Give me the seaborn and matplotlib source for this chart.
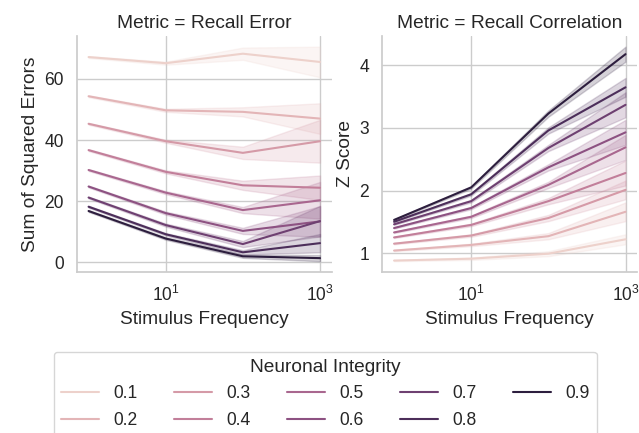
import numpy as np
import pandas as pd
import seaborn as sns
import matplotlib
matplotlib.use("Agg")
import matplotlib.pyplot as plt

# ---- data ----
freqs = [1, 10, 100, 1000]
integrity = [0.1, 0.2, 0.3, 0.4, 0.5, 0.6, 0.7, 0.8, 0.9]

err_mean = [
    [67.1, 65.1, 68.2, 65.5],
    [54.3, 49.7, 49.2, 47.0],
    [45.3, 39.6, 35.8, 39.6],
    [36.7, 29.6, 25.2, 24.4],
    [30.2, 22.8, 17.1, 20.3],
    [24.8, 16.1, 10.3, 13.4],
    [21.2, 12.2, 6.0, 13.5],
    [18.2, 9.2, 3.3, 6.3],
    [16.8, 7.8, 2.0, 1.4],
]
err_band = [
    [0.3, 0.5, 2.0, 5.0],
    [0.3, 0.5, 1.5, 5.0],
    [0.3, 0.5, 2.0, 7.0],
    [0.3, 0.5, 1.5, 4.0],
    [0.3, 0.5, 1.0, 6.0],
    [0.3, 0.5, 1.0, 5.0],
    [0.3, 0.5, 1.0, 5.0],
    [0.3, 0.4, 0.7, 3.0],
    [0.3, 0.4, 0.5, 1.0],
]
corr_mean = [
    [0.88, 0.91, 0.99, 1.22],
    [1.04, 1.13, 1.27, 1.66],
    [1.15, 1.28, 1.56, 2.01],
    [1.25, 1.45, 1.83, 2.28],
    [1.33, 1.58, 2.09, 2.69],
    [1.40, 1.72, 2.37, 2.93],
    [1.46, 1.83, 2.68, 3.37],
    [1.50, 1.94, 2.96, 3.65],
    [1.53, 2.05, 3.23, 4.18],
]
corr_band = [
    [0.01, 0.02, 0.04, 0.08],
    [0.01, 0.02, 0.05, 0.15],
    [0.01, 0.02, 0.05, 0.15],
    [0.01, 0.02, 0.05, 0.20],
    [0.01, 0.02, 0.05, 0.20],
    [0.01, 0.02, 0.05, 0.20],
    [0.01, 0.02, 0.05, 0.20],
    [0.01, 0.02, 0.05, 0.15],
    [0.01, 0.02, 0.05, 0.12],
]
metrics = ["Recall Error", "Recall Correlation"]
ylabels = ["Sum of Squared Errors", "Z Score"]

rows = []
for metric, means, bands in [(metrics[0], err_mean, err_band),
                             (metrics[1], corr_mean, corr_band)]:
    for i, lvl in enumerate(integrity):
        for j, f in enumerate(freqs):
            m, b = means[i][j], bands[i][j]
            for v in (m - b, m + b):
                rows.append({"Metric": metric, "Stimulus Frequency": f,
                             "Neuronal Integrity": lvl, "value": v})
df = pd.DataFrame(rows)

sns.set_theme(style="whitegrid", context="notebook", font_scale=1.15)
plt.rcParams["font.family"] = ["Liberation Sans", "DejaVu Sans"]
plt.rcParams["mathtext.fontset"] = "custom"
plt.rcParams["mathtext.rm"] = "Liberation Sans"
plt.rcParams["mathtext.it"] = "Liberation Sans:italic"
plt.rcParams["mathtext.bf"] = "Liberation Sans:bold"

g = sns.relplot(
    data=df, x="Stimulus Frequency", y="value",
    hue="Neuronal Integrity", col="Metric", col_order=metrics,
    kind="line", legend="full", errorbar=("pi", 100),
    facet_kws=dict(sharey=False, sharex=True),
    height=3.5, aspect=1.0,
)
g.set(xscale="log")
for ax, yl in zip(g.axes.flat, ylabels):
    ax.set_ylabel(yl)
    ax.set_xticks([10, 1000])
    ax.minorticks_off()
g.axes.flat[0].set_yticks([0, 20, 40, 60])
g.axes.flat[1].set_yticks([1, 2, 3, 4])

g.figure.set_size_inches(6.39, 4.33)
g.figure.subplots_adjust(left=0.1205, right=0.997, top=0.917, bottom=0.372, wspace=0.2)
sns.move_legend(g, "upper center", bbox_to_anchor=(0.509, 0.208), ncol=5,
                frameon=True, title="Neuronal Integrity",
                handlelength=2.2, columnspacing=2.05, labelspacing=0.55)
g.figure.savefig("out.png", dpi=100)
